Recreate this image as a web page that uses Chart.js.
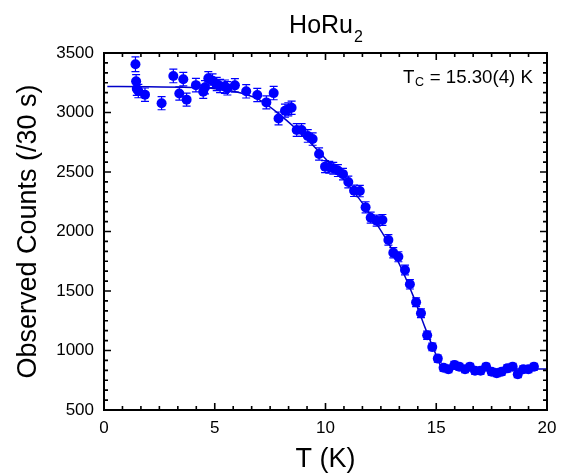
<!DOCTYPE html>
<html>
<head>
<meta charset="utf-8">
<title>HoRu2 order parameter</title>
<script src="https://cdn.jsdelivr.net/npm/chart.js@4.4.1/dist/chart.umd.min.js"></script>
<style>
  html, body { margin: 0; padding: 0; background: #fff; }
  #wrap { width: 572px; height: 476px; }
</style>
</head>
<body>
<div id="wrap"><canvas id="c" width="572" height="476"></canvas></div>
<script>
// Measured neutron counts (per 30 s) vs temperature
const temps = [1.42, 1.45, 1.48, 1.55, 1.85, 2.6, 3.13, 3.4, 3.58, 3.73, 4.15, 4.48, 4.56, 4.71, 4.9,
  5.09, 5.24, 5.46, 5.57, 5.91, 6.42, 6.92, 7.33, 7.66, 7.88, 8.17, 8.32, 8.47, 8.7, 8.92, 9.2,
  9.42, 9.71, 9.98, 10.17, 10.35, 10.56, 10.79, 11.03, 11.29, 11.55, 11.81, 12.04, 12.31, 12.57,
  12.84, 13.06, 13.29, 13.59, 13.81, 14.09, 14.31, 14.59, 14.82, 15.07, 15.33, 15.55, 15.82,
  16.04, 16.3, 16.52, 16.75, 17.0, 17.25, 17.5, 17.73, 17.95, 18.21, 18.45, 18.68, 18.93, 19.16, 19.41];
const counts = [3405, 3262, 3200, 3180, 3150, 3078, 3307, 3160, 3280, 3108, 3230, 3175, 3212, 3287, 3267,
  3240, 3223, 3217, 3203, 3228, 3178, 3147, 3085, 3163, 2950, 3015, 3027, 3040, 2853, 2853, 2803,
  2777, 2651, 2545, 2540, 2531, 2512, 2482, 2416, 2342, 2340, 2203, 2116, 2091, 2097,
  1929, 1822, 1788, 1677, 1556, 1405, 1313, 1128, 1030, 932, 855, 842, 878,
  864, 842, 864, 830, 830, 864, 822, 809, 822, 850, 864, 800, 842, 842, 864];
const errors = [62, 57, 56, 56, 56, 55, 57, 56, 57, 55, 57, 56, 56, 57, 57,
  56, 56, 56, 56, 56, 56, 56, 55, 56, 54, 55, 55, 55, 53, 53, 53,
  52, 51, 50, 50, 50, 50, 49, 49, 48, 48, 47, 46, 46, 46,
  44, 43, 42, 41, 39, 37, 36, 34, 32, 30, 29, 29, 30,
  29, 29, 29, 29, 29, 29, 29, 28, 29, 29, 29, 28, 29, 29, 29];

// Order-parameter fit curve
const fitT =      [0.15, 2,    4,    5,    6,    7,    8,    9,    10,   11,   12,   13,   13.5, 14,   14.5, 15,  15.3, 16,  20];
const fitCounts = [3218, 3217, 3210, 3200, 3172, 3108, 2972, 2805, 2612, 2400, 2150, 1850, 1660, 1440, 1190, 960, 845,  845, 845];

// Axis ticks
const xTicks = [0, 5, 10, 15, 20];
const yTicks = [500, 1000, 1500, 2000, 2500, 3000, 3500];

const FONT = "'Liberation Sans', Arial, sans-serif";
const BLUE = 'rgb(0, 0, 255)';
const LINE_BLUE = 'rgb(0, 0, 200)';

const points = temps.map((t, i) => ({ x: t, y: counts[i] }));
const fitLine = fitT.map((t, i) => ({ x: t, y: fitCounts[i] }));

// Error bars drawn under the markers
const errorBars = {
  id: 'errorBars',
  beforeDatasetsDraw(chart) {
    const { ctx, scales: { x, y } } = chart;
    ctx.save();
    ctx.strokeStyle = BLUE;
    ctx.lineWidth = 1.2;
    const cap = 4;
    temps.forEach((t, i) => {
      const px = x.getPixelForValue(t);
      const yHi = y.getPixelForValue(counts[i] + errors[i]);
      const yLo = y.getPixelForValue(counts[i] - errors[i]);
      ctx.beginPath();
      ctx.moveTo(px, yHi); ctx.lineTo(px, yLo);
      ctx.moveTo(px - cap, yHi); ctx.lineTo(px + cap, yHi);
      ctx.moveTo(px - cap, yLo); ctx.lineTo(px + cap, yLo);
      ctx.stroke();
    });
    ctx.restore();
  }
};

// Boxed frame with inward major and minor ticks on all four sides
const frame = {
  id: 'frame',
  afterDraw(chart) {
    const { ctx, chartArea: a, scales: { x, y } } = chart;
    const major = 7, minor = 4, sub = 6;
    ctx.save();
    ctx.strokeStyle = '#000';
    ctx.lineWidth = 1.6;
    ctx.beginPath();
    for (let i = 0; i < xTicks.length; i++) {
      const px = x.getPixelForValue(xTicks[i]);
      ctx.moveTo(px, a.bottom); ctx.lineTo(px, a.bottom - major);
      ctx.moveTo(px, a.top); ctx.lineTo(px, a.top + major);
      if (i < xTicks.length - 1) {
        const step = (xTicks[i + 1] - xTicks[i]) / sub;
        for (let k = 1; k < sub; k++) {
          const mx = x.getPixelForValue(xTicks[i] + k * step);
          ctx.moveTo(mx, a.bottom); ctx.lineTo(mx, a.bottom - minor);
          ctx.moveTo(mx, a.top); ctx.lineTo(mx, a.top + minor);
        }
      }
    }
    for (let i = 0; i < yTicks.length; i++) {
      const py = y.getPixelForValue(yTicks[i]);
      ctx.moveTo(a.left, py); ctx.lineTo(a.left + major, py);
      ctx.moveTo(a.right, py); ctx.lineTo(a.right - major, py);
      if (i < yTicks.length - 1) {
        const step = (yTicks[i + 1] - yTicks[i]) / sub;
        for (let k = 1; k < sub; k++) {
          const my = y.getPixelForValue(yTicks[i] + k * step);
          ctx.moveTo(a.left, my); ctx.lineTo(a.left + minor, my);
          ctx.moveTo(a.right, my); ctx.lineTo(a.right - minor, my);
        }
      }
    }
    ctx.stroke();
    ctx.lineWidth = 2;
    ctx.strokeRect(a.left, a.top, a.right - a.left, a.bottom - a.top);
    ctx.restore();
  }
};

// Title with subscript and the transition-temperature note
const labels = {
  id: 'labels',
  afterDraw(chart) {
    const { ctx, chartArea: a } = chart;
    ctx.save();
    ctx.fillStyle = '#000';
    ctx.textBaseline = 'alphabetic';
    ctx.textAlign = 'left';

    const big = '25px ' + FONT, small = '16px ' + FONT;
    ctx.font = big; const w1 = ctx.measureText('HoRu').width;
    ctx.font = small; const w2 = ctx.measureText('2').width;
    const cx = (a.left + a.right) / 2;
    let sx = cx - (w1 + w2) / 2;
    ctx.font = big; ctx.fillText('HoRu', sx, 33);
    ctx.font = small; ctx.fillText('2', sx + w1 + 1, 42);

    const nx = 403, ny = 83;
    ctx.font = '18.7px ' + FONT;
    ctx.fillText('T', nx, ny);
    const tw = ctx.measureText('T').width;
    ctx.font = '12.5px ' + FONT;
    ctx.fillText('C', nx + tw + 0.5, ny + 3);
    const cw = ctx.measureText('C').width;
    ctx.font = '18.7px ' + FONT;
    ctx.fillText(' = 15.30(4) K', nx + tw + cw + 1, ny);
    ctx.restore();
  }
};

new Chart(document.getElementById('c'), {
  type: 'scatter',
  data: {
    datasets: [
      {
        type: 'line',
        data: fitLine,
        borderColor: LINE_BLUE,
        borderWidth: 1.5,
        pointRadius: 0,
        fill: false,
        cubicInterpolationMode: 'monotone',
        order: 2
      },
      {
        data: points,
        backgroundColor: BLUE,
        borderColor: BLUE,
        borderWidth: 0,
        pointRadius: 5,
        order: 1
      }
    ]
  },
  options: {
    responsive: false,
    animation: false,
    layout: { padding: { top: 53, right: 25, bottom: 0, left: 0 } },
    plugins: { legend: { display: false }, tooltip: { enabled: false }, title: { display: false } },
    scales: {
      x: {
        type: 'linear', min: 0, max: 20,
        afterBuildTicks(s) { s.ticks = xTicks.map(v => ({ value: v })); },
        afterFit(s) { s.height = 66; },
        grid: { display: false, drawTicks: false },
        border: { display: false },
        ticks: { color: '#000', font: { family: FONT, size: 17 }, padding: 8, maxRotation: 0, callback: v => String(v) },
        title: { display: true, text: 'T (K)', color: '#000', font: { family: FONT, size: 27 }, padding: { top: 0, bottom: 0 } }
      },
      y: {
        type: 'linear', min: 500, max: 3500,
        afterBuildTicks(s) { s.ticks = yTicks.map(v => ({ value: v })); },
        afterFit(s) { s.width = 104; },
        grid: { display: false, drawTicks: false },
        border: { display: false },
        ticks: { color: '#000', font: { family: FONT, size: 17 }, padding: 10, callback: v => String(v) },
        title: { display: true, text: 'Observed Counts (/30 s)', color: '#000', font: { family: FONT, size: 27 }, padding: { top: 12, bottom: 0 } }
      }
    }
  },
  plugins: [errorBars, frame, labels]
});
</script>
</body>
</html>
